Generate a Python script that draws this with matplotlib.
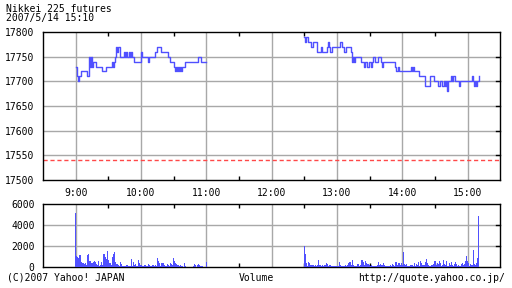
import matplotlib
matplotlib.use("Agg")
import matplotlib.pyplot as plt
import numpy as np

# ---- data ----
title_line1 = "Nikkei 225 futures"
title_line2 = "2007/5/14 15:10"
xtick_labels = ["9:00", "10:00", "11:00", "12:00", "13:00", "14:00", "15:00"]
price_ticks = [17500, 17550, 17600, 17650, 17700, 17750, 17800]
vol_ticks = [0, 2000, 4000, 6000]
ref_price = 17540

# morning session: minutes after 9:00 where price changes, and the new price
am_change_min = [0, 1, 2, 3, 5, 10, 12, 13, 14, 15, 16, 19, 24, 28, 33, 34, 35, 36, 37, 38,
                 39, 41, 44, 45, 46, 47, 49, 50, 51, 52, 54, 60, 61, 66, 67, 73, 75, 78, 85, 87,
                 90, 91, 92, 93, 94, 95, 96, 97, 98, 100, 112, 115, 120]
am_change_px = [17730, 17710, 17700, 17710, 17720, 17710, 17750, 17730, 17750, 17730, 17740, 17730,
                17720, 17730, 17740, 17730, 17740, 17750, 17770, 17760, 17770, 17750, 17760, 17750,
                17760, 17750, 17760, 17750, 17760, 17750, 17740, 17760, 17750, 17740, 17750, 17760,
                17770, 17760, 17750, 17740, 17730, 17720, 17730, 17720, 17730, 17720, 17730, 17720,
                17730, 17740, 17750, 17740, 17740]

# afternoon session: minutes after 12:30
pm_change_min = [0, 1, 2, 3, 6, 8, 12, 15, 16, 21, 22, 23, 24, 25, 33, 35, 36, 38, 43, 44, 45, 46,
                 47, 52, 55, 56, 58, 59, 61, 62, 63, 65, 68, 70, 71, 72, 83, 84, 86, 87, 98, 99,
                 100, 101, 105, 111, 115, 119, 123, 125, 126, 128, 129, 130, 131, 132, 135, 136,
                 137, 138, 139, 142, 143, 154, 155, 156, 157, 158, 159, 160]
pm_change_px = [17790, 17780, 17790, 17780, 17770, 17780, 17760, 17770, 17760, 17770, 17780, 17770,
                17760, 17770, 17780, 17770, 17760, 17770, 17760, 17740, 17750, 17740, 17750, 17740,
                17730, 17740, 17730, 17740, 17730, 17740, 17750, 17740, 17750, 17740, 17730, 17740,
                17730, 17720, 17730, 17720, 17730, 17720, 17730, 17720, 17710, 17690, 17710, 17700,
                17690, 17700, 17690, 17700, 17690, 17700, 17680, 17700, 17710, 17700, 17710, 17700,
                17700, 17690, 17700, 17710, 17700, 17690, 17700, 17690, 17700, 17710]

# volume per minute, morning 9:00-11:00
am_volume = [5170, 1070, 1000, 850, 1170, 530, 440, 400, 300, 380, 220, 1200, 1250, 630, 630, 440,
             530, 630, 530, 320, 200, 630, 130, 220, 530, 200, 1260, 950, 760, 1550, 700, 380,
             380, 220, 1000, 1250, 1450, 530, 320, 220, 130, 530, 320, 130, 130, 130, 130, 220,
             190, 130, 130, 790, 130, 530, 190, 320, 130, 130, 700, 380, 220, 130, 130, 220, 190,
             100, 130, 320, 190, 130, 130, 190, 130, 190, 130, 910, 630, 380, 130, 440, 380, 440,
             190, 130, 320, 190, 130, 440, 320, 190, 880, 630, 440, 320, 190, 130, 190, 130, 100,
             60, 440, 130, 60, 60, 60, 60, 60, 60, 100, 320, 190, 60, 220, 320, 190, 130, 100, 60,
             60, 60, 530]
# volume per minute, afternoon 12:30-15:10
pm_volume = [2030, 1270, 380, 100, 500, 380, 220, 190, 250, 130, 220, 130, 200, 700, 190, 250, 130,
             220, 130, 190, 440, 320, 130, 250, 190, 130, 100, 100, 100, 100, 100, 100, 540, 190,
             130, 100, 130, 130, 190, 130, 190, 380, 540, 250, 700, 220, 130, 100, 130, 320, 320,
             130, 220, 700, 540, 220, 630, 380, 320, 320, 220, 130, 220, 130, 130, 130, 130, 190,
             540, 220, 320, 250, 190, 440, 190, 130, 100, 100, 100, 190, 130, 320, 220, 130, 540,
             540, 190, 440, 190, 380, 200, 1500, 320, 220, 320, 130, 130, 130, 190, 250, 130, 440,
             130, 320, 220, 540, 130, 630, 440, 190, 220, 540, 760, 440, 190, 130, 130, 220, 190,
             320, 630, 190, 440, 320, 630, 440, 130, 220, 700, 320, 220, 630, 130, 380, 220, 540,
             190, 130, 320, 540, 320, 130, 220, 130, 320, 380, 250, 320, 630, 1080, 630, 380, 130,
             320, 250, 1650, 320, 190, 380, 860, 4890]

# ---- layout ----
W, H = 512, 288
fig = plt.figure(figsize=(W / 100, H / 100), dpi=100)
fig.patch.set_facecolor("white")
plt.rcParams['font.family'] = ['DejaVu Sans Mono']

L, R = 43, 500.3
ax = fig.add_axes([L / W, 1 - 180 / H, (R - L) / W, 148 / H])
axv = fig.add_axes([L / W, 1 - 267.3 / H, (R - L) / W, 63 / H])

blue = "#5050ff"
grid_c = "#a8a8a8"
fs = 7

AM0, PM0 = 30, 240  # minutes after 8:30
major = [30 + 60 * i for i in range(7)]
minor = [60 + 60 * i for i in range(6)]

for a in (ax, axv):
    a.set_xlim(0, 420)
    for x in major:
        a.axvline(x, color=grid_c, lw=1.0, zorder=1)
    for s in a.spines.values():
        s.set_linewidth(1.0)
        s.set_color("black")
    a.set_xticks(minor, minor=True)
    a.tick_params(axis='x', which='minor', direction='in', length=3, top=True, bottom=True,
                  width=1, color='black')
    a.tick_params(axis='y', which='major', direction='in', length=0, left=False,
                  labelsize=fs, pad=6)
    a.yaxis.set_tick_params(right=False)

ax.set_ylim(17500, 17800)
ax.set_yticks(price_ticks)
ax.set_yticklabels([str(v) for v in price_ticks], fontsize=fs)
for v in price_ticks[1:-1]:
    ax.axhline(v, color=grid_c, lw=1.0, zorder=1)
    ax.plot([1.0, 0.99], [v, v], transform=ax.get_yaxis_transform(), color='black', lw=1,
            zorder=3, clip_on=False)
ax.set_xticks(major)
ax.set_xticklabels(xtick_labels, fontsize=fs)
ax.tick_params(axis='x', which='major', length=0, pad=6, labelsize=fs)

ax.axhline(ref_price, color="#ff4848", lw=1.0, ls=(0, (3, 2)), zorder=2)

am_t = [AM0 + m for m in am_change_min]
pm_t = [PM0 + m for m in pm_change_min]
ax.plot(am_t, am_change_px, drawstyle='steps-post', color=blue, lw=1.0, zorder=4)
ax.plot(pm_t, pm_change_px, drawstyle='steps-post', color=blue, lw=1.0, zorder=4)

axv.set_ylim(0, 6000)
axv.set_yticks(vol_ticks)
axv.set_yticklabels([str(v) for v in vol_ticks], fontsize=fs)
for v in vol_ticks[1:-1]:
    axv.axhline(v, color=grid_c, lw=1.0, zorder=1)
    axv.plot([1.0, 0.99], [v, v], transform=axv.get_yaxis_transform(), color='black', lw=1,
             zorder=3, clip_on=False)
axv.set_xticks(major)
axv.set_xticklabels([])
axv.tick_params(axis='x', which='major', length=0)

am_x = np.arange(len(am_volume)) + AM0
pm_x = np.arange(len(pm_volume)) + PM0
axv.bar(am_x, am_volume, width=1.0, color=blue, linewidth=0, zorder=4, antialiased=False)
axv.bar(pm_x, pm_volume, width=1.0, color=blue, linewidth=0, zorder=4, antialiased=False)

fig.text(6 / W, 1 - 9 / H, title_line1, fontsize=fs, va='center', ha='left')
fig.text(6 / W, 1 - 18 / H, title_line2, fontsize=fs, va='center', ha='left')
fig.text(7 / W, 1 - 278 / H, "(C)2007 Yahoo! JAPAN", fontsize=fs, va='center', ha='left')
fig.text(256 / W, 1 - 278 / H, "Volume", fontsize=fs, va='center', ha='center')
fig.text(505 / W, 1 - 278 / H, "http://quote.yahoo.co.jp/", fontsize=fs, va='center', ha='right')

fig.savefig("out.png", dpi=100, facecolor="white")
